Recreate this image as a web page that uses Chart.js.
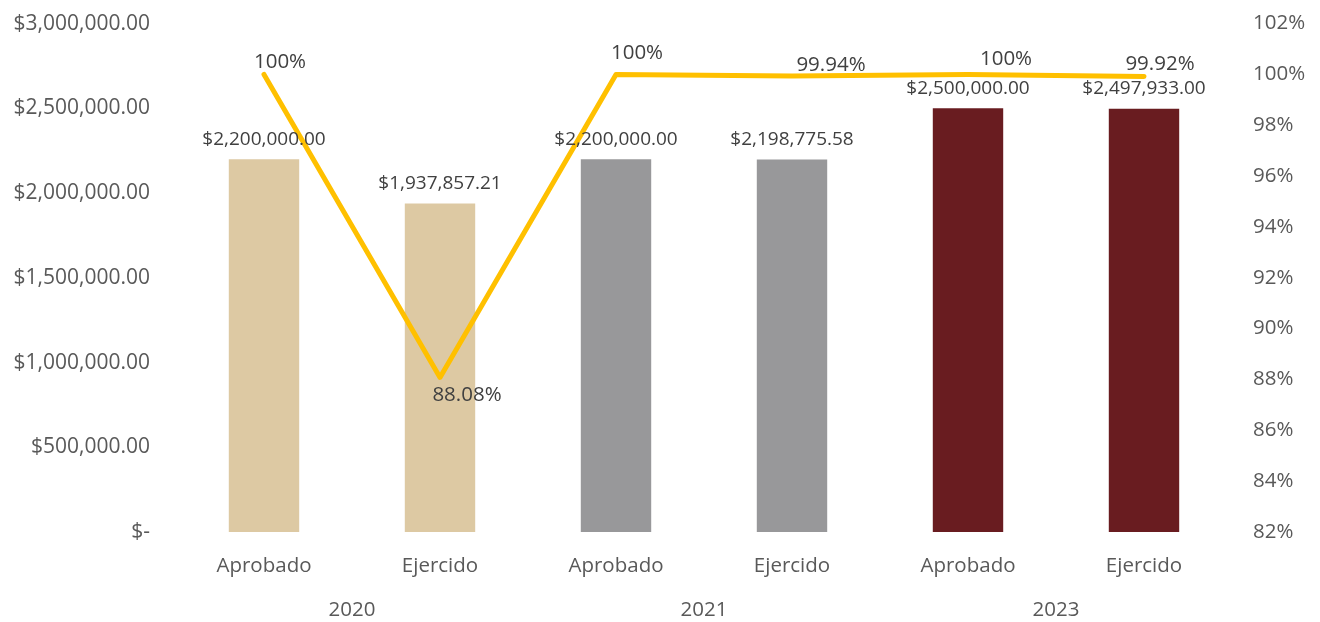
<!DOCTYPE html>
<html>
<head>
<meta charset="utf-8">
<script src="https://cdn.jsdelivr.net/npm/chart.js@4"></script>
<style>
  html, body { margin: 0; padding: 0; background: #fff; }
  #wrap { width: 1320px; height: 622px; overflow: hidden; }
  #myChart { display: block; margin-top: -7px; }
</style>
</head>
<body>
<div id="wrap"><canvas id="myChart" width="1320" height="629"></canvas></div>
<script>
const categories = ["Aprobado", "Ejercido", "Aprobado", "Ejercido", "Aprobado", "Ejercido"];
const years = ["2020", "2021", "2023"];
const amounts = [2200000, 1937857.21, 2200000, 2198775.58, 2500000, 2497933];
const percents = [100, 88.08, 100, 99.94, 100, 99.92];
const percentLabels = ["100%", "88.08%", "100%", "99.94%", "100%", "99.92%"];
const barColors = ["#DDC9A3", "#DDC9A3", "#98989A", "#98989A", "#691C20", "#691C20"];

// label offsets for the line labels (dx, dy from the point)
const lineLabelOffsets = [[16, -12], [27, 18], [21, -21], [39, -11], [38, -15], [16, -12]];

const textColor = "#595959";
const labelColor = "#404040";
const fontFamily = "'Open Sans', sans-serif";

function money(v) {
  if (v === 0) return "$-";
  return "$" + v.toLocaleString("en-US", { minimumFractionDigits: 2, maximumFractionDigits: 2 });
}

const labelsPlugin = {
  id: "labelsPlugin",
  afterDatasetsDraw(chart) {
    const ctx = chart.ctx;
    ctx.save();
    ctx.fillStyle = labelColor;
    ctx.textAlign = "center";
    ctx.textBaseline = "middle";

    // bar labels
    ctx.font = "19px " + fontFamily;
    chart.getDatasetMeta(1).data.forEach((bar, i) => {
      ctx.fillText(money(amounts[i]), bar.x, bar.y - 20);
    });

    // line labels
    ctx.font = "20.5px " + fontFamily;
    chart.getDatasetMeta(0).data.forEach((pt, i) => {
      const off = lineLabelOffsets[i];
      ctx.fillText(percentLabels[i], pt.x + off[0], pt.y + off[1]);
    });

    // year labels under each pair
    const x = chart.scales.x;
    ctx.fillStyle = textColor;
    ctx.font = "20.5px " + fontFamily;
    years.forEach((y, i) => {
      const cx = (x.getPixelForValue(i * 2) + x.getPixelForValue(i * 2 + 1)) / 2;
      ctx.fillText(y, cx, chart.chartArea.bottom + 78);
    });
    ctx.restore();
  }
};

const data = {
  labels: categories,
  datasets: [
    {
      type: "line",
      label: "Porcentaje",
      data: percents,
      yAxisID: "y2",
      borderColor: "#FFC000",
      borderWidth: 5,
      pointRadius: 0,
      tension: 0,
      borderCapStyle: "round",
      borderJoinStyle: "round",
      order: 0
    },
    {
      type: "bar",
      label: "Monto",
      data: amounts,
      yAxisID: "y",
      backgroundColor: barColors,
      barPercentage: 0.4,
      categoryPercentage: 1,
      order: 1
    }
  ]
};

const config = {
  data: data,
  plugins: [labelsPlugin],
  options: {
    responsive: false,
    animation: false,
    layout: { padding: 0 },
    scales: {
      x: {
        grid: { display: false },
        border: { display: false },
        ticks: { color: textColor, font: { size: 20.5, family: fontFamily }, padding: 14 },
        afterFit(scale) { scale.height = 90; }
      },
      y: {
        position: "left",
        min: 0,
        max: 3000000,
        grid: { display: false },
        border: { display: false },
        ticks: {
          stepSize: 500000,
          color: textColor,
          font: { size: 21, family: fontFamily },
          padding: 18,
          callback: (v) => money(v)
        },
        afterFit(scale) { scale.width = 176; }
      },
      y2: {
        position: "right",
        min: 82,
        max: 102,
        grid: { display: false },
        border: { display: false },
        ticks: {
          stepSize: 2,
          color: textColor,
          font: { size: 20.5, family: fontFamily },
          padding: 13,
          callback: (v) => v + "%"
        },
        afterFit(scale) { scale.width = 88; }
      }
    },
    plugins: {
      legend: { display: false },
      tooltip: { enabled: false }
    }
  }
};

const myChart = new Chart(document.getElementById("myChart"), config);
</script>
</body>
</html>
